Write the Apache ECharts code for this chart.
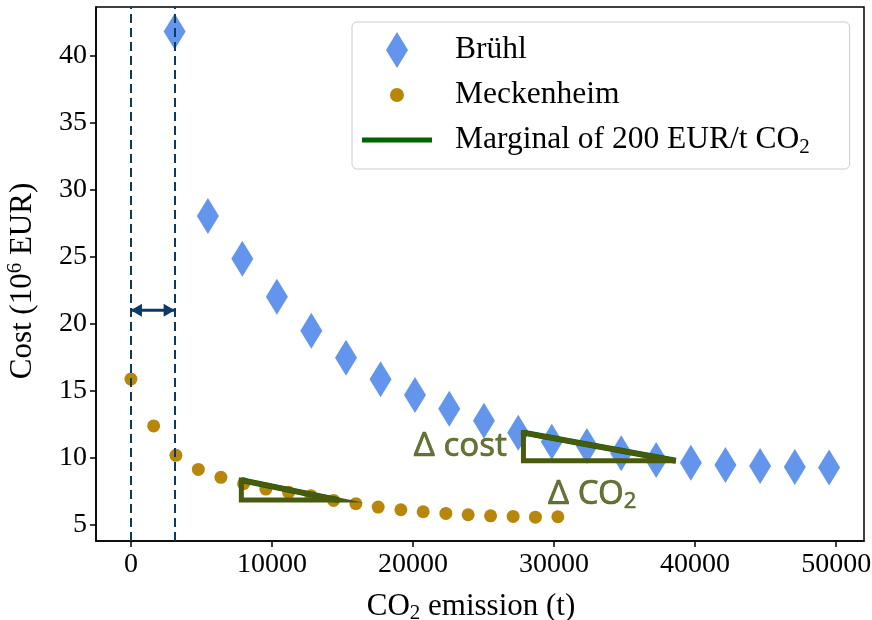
<!DOCTYPE html>
<html><head><meta charset="utf-8">
<script src="https://cdn.jsdelivr.net/npm/echarts@6/dist/echarts.min.js"></script>
<style>html,body{margin:0;padding:0;background:#fff}#c{width:872px;height:620px}</style>
</head><body><div id="c"></div>
<script>
// ---- data ----
const bruehlX = [3100, 5460, 7900, 10350, 12790, 15250, 17700, 20140, 22570, 25030, 27460, 29840, 32330, 34760, 37240, 39700, 42150, 44610, 47070, 49500];
const bruehlY = [41.8, 28.04, 24.85, 22.01, 19.48, 17.46, 15.85, 14.68, 13.66, 12.76, 11.87, 11.19, 10.87, 10.33, 9.83, 9.63, 9.46, 9.38, 9.31, 9.28];
const meckX = [0, 1610, 3190, 4780, 6380, 7990, 9570, 11180, 12760, 14370, 15950, 17530, 19140, 20720, 22330, 23910, 25500, 27100, 28680, 30270];
const meckY = [15.87, 12.37, 10.18, 9.13, 8.54, 8.06, 7.66, 7.42, 7.17, 6.82, 6.57, 6.32, 6.12, 5.97, 5.85, 5.75, 5.67, 5.62, 5.57, 5.6];
const triMeckX = [7830, 7830, 14720];
const triMeckY = [8.33, 6.84, 6.84];
const triBruehlX = [27830, 27830, 38630];
const triBruehlY = [11.87, 9.78, 9.78];
const vLinesX = [0, 3100];
const arrowY = 21;
const xTicks = [0, 10000, 20000, 30000, 40000, 50000];
const yTicks = [5, 10, 15, 20, 25, 30, 35, 40];
const annoText = ['{a|Δ cost}', '{a|Δ CO}{b|2}'];
const annoX = [27830, 32700];
const annoY = [10.82, 9.78];
const legendNames = ['Brühl', 'Meckenheim', 'Marginal of 200 EUR/t CO2'];

const zip = (xs, ys) => xs.map((x, i) => [x, ys[i]]);
const closeTri = (xs, ys) => { const p = zip(xs, ys); p.push(p[0]); return p; };

const OLIVE = '#485a0e';
const NAVY = '#0a3a66';
const SERIF = 'Liberation Serif';
const NAME_FS = 31;
const LEG_FS = 31.5;
const ANNO_COLOR = '#3f5108';

const chart = echarts.init(document.getElementById('c'), null, {renderer: 'canvas'});
chart.setOption({
  animation: false,
  backgroundColor: '#fff',
  grid: {left: 96, top: 7, width: 768, height: 534, show: true, borderColor: '#000', borderWidth: 1.5,
    backgroundColor: 'transparent', containLabel: false, outerBoundsMode: 'none'},
  xAxis: {
    type: 'value', min: -2475, max: 51975,
    axisLine: {show: true, onZero: false, lineStyle: {color: '#000', width: 1.5}},
    axisTick: {show: true, length: 6, lineStyle: {color: '#000', width: 1.5}, customValues: xTicks},
    axisLabel: {color: '#000', fontFamily: SERIF, fontSize: 28, margin: 10, customValues: xTicks,
      formatter: v => String(v)},
    splitLine: {show: false},
    name: '{n|CO}{s|2}{n| emission (t)}', nameLocation: 'middle', nameGap: 48,
    nameTextStyle: {color: '#000', fontFamily: SERIF, fontSize: NAME_FS, padding: [0, 18, 0, 0],
      rich: {n: {fontFamily: SERIF, fontSize: NAME_FS, color: '#000'}, s: {fontFamily: SERIF, fontSize: 21, color: '#000', padding: [14, 0, 0, 0]}}}
  },
  yAxis: {
    type: 'value', min: 3.79, max: 43.62,
    axisLine: {show: true, onZero: false, lineStyle: {color: '#000', width: 1.5}},
    axisTick: {show: true, length: 6, lineStyle: {color: '#000', width: 1.5}, customValues: yTicks},
    axisLabel: {color: '#000', fontFamily: SERIF, fontSize: 28, margin: 9, customValues: yTicks,
      formatter: v => String(v)},
    splitLine: {show: false},
    name: '{n|Cost (10}{p|6}{n| EUR)}', nameLocation: 'middle', nameGap: 56, nameRotate: 90,
    nameTextStyle: {color: '#000', fontFamily: SERIF, fontSize: NAME_FS, padding: [0, 14, 0, 0],
      rich: {n: {fontFamily: SERIF, fontSize: NAME_FS, color: '#000'}, p: {fontFamily: SERIF, fontSize: 21, color: '#000', padding: [0, 0, 14, 0]}}}
  },
  legend: {
    orient: 'vertical', left: 352, top: 22,
    padding: [10, 40, 11, 10], itemWidth: 88, itemHeight: 36, itemGap: 9,
    backgroundColor: 'rgba(255,255,255,0.8)', borderColor: '#cccccc', borderWidth: 1, borderRadius: 5,
    selectedMode: false,
    textStyle: {fontFamily: SERIF, fontSize: LEG_FS, color: '#000',
      rich: {n: {fontFamily: SERIF, fontSize: LEG_FS, color: '#000'}, s: {fontFamily: SERIF, fontSize: 21, color: '#000', padding: [14, 0, 0, 0]}}},
    formatter: name => name === legendNames[2] ? '{n|Marginal of 200 EUR/t CO}{s|2}' : '{n|' + name + '}',
    data: [
      {name: legendNames[0], icon: 'path://M0,0M88,36M35,0L46,18L35,36L24,18Z', itemStyle: {color: '#6495ED', borderWidth: 0}},
      {name: legendNames[1], icon: 'path://M0,0M88,36M35,11A7,7,0,1,1,34.99,11Z', itemStyle: {color: '#B8860B', borderWidth: 0}},
      {name: legendNames[2], icon: 'path://M0,0M88,36M0,15.5L70,15.5L70,20.5L0,20.5Z', itemStyle: {color: '#006400', borderWidth: 0}}
    ]
  },
  series: [
    {name: legendNames[0], type: 'scatter', data: zip(bruehlX, bruehlY), symbol: 'diamond', symbolSize: [22, 36],
      itemStyle: {color: '#6495ED', opacity: 1}, z: 2},
    {name: legendNames[1], type: 'scatter', data: zip(meckX, meckY), symbol: 'circle', symbolSize: 13,
      itemStyle: {color: '#B8860B', opacity: 1}, z: 2},
    {name: legendNames[2], type: 'line', data: zip([triMeckX[0], triMeckX[2]], [triMeckY[0], triMeckY[2]]),
      showSymbol: false, symbol: 'none', lineStyle: {color: '#006400', width: 6}, itemStyle: {color: '#006400'}, z: 3},
    {name: legendNames[2], type: 'line', data: zip([triBruehlX[0], triBruehlX[2]], [triBruehlY[0], triBruehlY[2]]),
      showSymbol: false, symbol: 'none', lineStyle: {color: '#006400', width: 6}, itemStyle: {color: '#006400'}, z: 3},
    {name: 'triMeck', type: 'line', data: closeTri(triMeckX, triMeckY), showSymbol: false, symbol: 'none',
      lineStyle: {color: OLIVE, width: 5, join: 'miter', cap: 'square'}, z: 4},
    {name: 'triBruehl', type: 'line', data: closeTri(triBruehlX, triBruehlY), showSymbol: false, symbol: 'none',
      lineStyle: {color: OLIVE, width: 5, join: 'miter', cap: 'square'}, z: 4},
    {name: 'guides', type: 'line', data: [], z: 5,
      markLine: {silent: true, symbol: 'none', animation: false,
        lineStyle: {color: NAVY, width: 2, type: [9, 5]}, label: {show: false},
        data: vLinesX.map(x => ({xAxis: x}))}},
    {name: 'arrowShaft', type: 'line', data: vLinesX.map(x => [x, arrowY]), showSymbol: false, symbol: 'none',
      lineStyle: {color: NAVY, width: 3}, z: 5, silent: true},
    {name: 'arrowHeads', type: 'scatter', z: 5, silent: true, symbol: 'triangle', symbolSize: [13, 11],
      itemStyle: {color: NAVY, opacity: 1},
      data: [
        {value: [vLinesX[0], arrowY], symbolRotate: 90, symbolOffset: [5.5, 0]},
        {value: [vLinesX[1], arrowY], symbolRotate: -90, symbolOffset: [-5.5, 0]}
      ]},
    {name: 'anno', type: 'scatter', symbolSize: 1, itemStyle: {color: 'rgba(0,0,0,0)'}, z: 6, silent: true,
      data: annoX.map((x, i) => ({value: [x, annoY[i]],
        label: {show: true, position: i === 0 ? 'left' : 'bottom', distance: i === 0 ? 16 : 14,
          formatter: annoText[i],
          rich: {a: {fontFamily: 'Noto Sans', fontSize: 33, color: ANNO_COLOR, textBorderColor: ANNO_COLOR, textBorderWidth: 0.6},
                 b: {fontFamily: 'Noto Sans', fontSize: 22, color: ANNO_COLOR, textBorderColor: ANNO_COLOR, textBorderWidth: 0.5, padding: [16, 0, 0, 0]}}}}))}
  ]
});
</script></body></html>
